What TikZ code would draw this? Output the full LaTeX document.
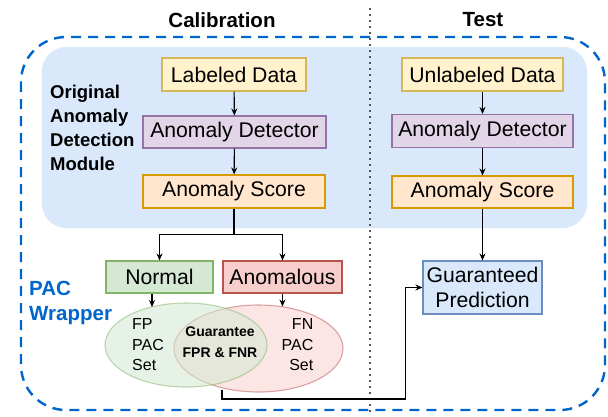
\documentclass[tikz,border=0pt]{standalone}
\usepackage{fontspec}
\setmainfont{Liberation Sans}
\usetikzlibrary{shapes.geometric,arrows.meta,calc}
\definecolor{ybg}{HTML}{FFF2CC}\definecolor{ybd}{HTML}{D6B656}
\definecolor{pbg}{HTML}{E1D5E7}\definecolor{pbd}{HTML}{9673A6}
\definecolor{obg}{HTML}{FFE6CC}\definecolor{obd}{HTML}{D79B00}
\definecolor{gbg}{HTML}{D5E8D4}\definecolor{gbd}{HTML}{82B366}
\definecolor{rbg}{HTML}{F8CECC}\definecolor{rbd}{HTML}{B85450}
\definecolor{bbg}{HTML}{DAE8FC}\definecolor{bbd}{HTML}{6C8EBF}
\definecolor{wrap}{HTML}{0066CC}
\definecolor{dotc}{HTML}{555555}
\newcommand\myfs[2]{\fontsize{#1}{#2}\selectfont}
\begin{document}
\begin{tikzpicture}[x=1pt,y=-1pt,
  box/.style={draw, line width=1.1pt, inner sep=0pt, font=\myfs{21.2}{25}, align=center},
  arr/.style={-{Stealth[length=7pt,width=6pt]}, line width=1.1pt},
  lbl/.style={inner sep=0pt, text=black}]
\useasboundingbox (0,0) rectangle (608,416);
\fill[white] (0,0) rectangle (608,416);

% module background
\path[fill=bbg, draw=bbg, rounded corners=25pt] (42,47) rectangle (587,228);
% PAC wrapper dashed box
\draw[wrap, line width=2.4pt, dash pattern=on 10pt off 7pt, rounded corners=45pt] (21,37) rectangle (605,410);
% separator
\draw[dotc, line width=1.8pt, dash pattern=on 1.8pt off 4.2pt] (370,8) -- (370,414);

% titles
\node[lbl, font=\myfs{20.5}{25}\bfseries] (tcal) at (222,20) {Calibration};
\node[lbl, font=\myfs{20.5}{25}\bfseries] (ttest) at (483,20) {Test};

\node[lbl, anchor=north west, align=left, font=\myfs{18.5}{24}\bfseries] (module) at (50,84.5) {Original\\Anomaly\\Detection\\Module};
\node[lbl, anchor=north west, align=left, text=wrap, font=\myfs{20.5}{25}\bfseries] (pacw) at (29,280.5) {PAC\\Wrapper};

% calibration column
\node[box, fill=ybg, draw=ybd, minimum width=144pt, minimum height=33pt] (lab) at (234,74.5) {Labeled Data};
\node[box, fill=pbg, draw=pbd, minimum width=183pt, minimum height=32pt] (det1) at (234.5,132) {Anomaly Detector};
\node[box, fill=obg, draw=obd, minimum width=182pt, minimum height=33pt] (sc1) at (234,191.5) {Anomaly Score};
\node[box, fill=gbg, draw=gbd, minimum width=107pt, minimum height=32pt] (normal) at (159.5,277) {Normal};
\node[box, fill=rbg, draw=rbd, minimum width=119pt, minimum height=32pt] (anom) at (282.5,277) {Anomalous};

% test column
\node[box, fill=ybg, draw=ybd, minimum width=161pt, minimum height=33pt] (unl) at (482.5,74.5) {Unlabeled Data};
\node[box, fill=pbg, draw=pbd, minimum width=181pt, minimum height=33pt] (det2) at (482.5,131) {Anomaly Detector};
\node[box, fill=obg, draw=obd, minimum width=181pt, minimum height=32pt] (sc2) at (482.5,192) {Anomaly Score};
\node[box, fill=bbg, draw=bbd, minimum width=119pt, minimum height=53pt] (gp) at (482.5,287.5) {Guaranteed\\Prediction};

% PAC sets
\node[ellipse, draw=rbd, draw opacity=0.5, fill=rbg, fill opacity=0.5, line width=1.1pt, minimum width=169pt, minimum height=87pt, inner sep=0pt] (fnset) at (258.5,348.5) {};
\node[ellipse, draw=gbd, draw opacity=0.5, fill=gbg, fill opacity=0.55, line width=1.1pt, minimum width=162pt, minimum height=84pt, inner sep=0pt] (fpset) at (186,345) {};

\node[lbl, anchor=north west, align=left, font=\myfs{16}{20.5}] (fptxt) at (132,318.5) {FP\\PAC\\Set};
\node[lbl, anchor=north east, align=right, font=\myfs{16}{20.5}] (fntxt) at (313.5,318.5) {FN\\PAC\\Set};
\node[lbl, anchor=north, align=center, font=\myfs{14}{21}\bfseries] (guar) at (220,327) {Guarantee\\FPR \& FNR};

\coordinate (ix) at (222,390);

% connectors
\draw[arr] (lab) -- (det1);
\draw[arr] (det1) -- (sc1);
\draw[arr] (unl) -- (det2);
\draw[arr] (det2) -- (sc2);
\draw[arr] (sc2) -- (gp);
\draw[arr] (sc1.south) -- ++(0,26) -| (normal.north);
\draw[arr] (sc1.south) -- ++(0,26) -| (anom.north);
\draw[arr] ([xshift=-7.5pt]normal.south) -- ++(0,13.5);
\draw[arr] (anom.south) -- ++(0,13);
\draw[arr] (ix) -- ++(0,9) -| ($(gp.west)+(-17,0)$) -- (gp.west);
\end{tikzpicture}
\end{document}
